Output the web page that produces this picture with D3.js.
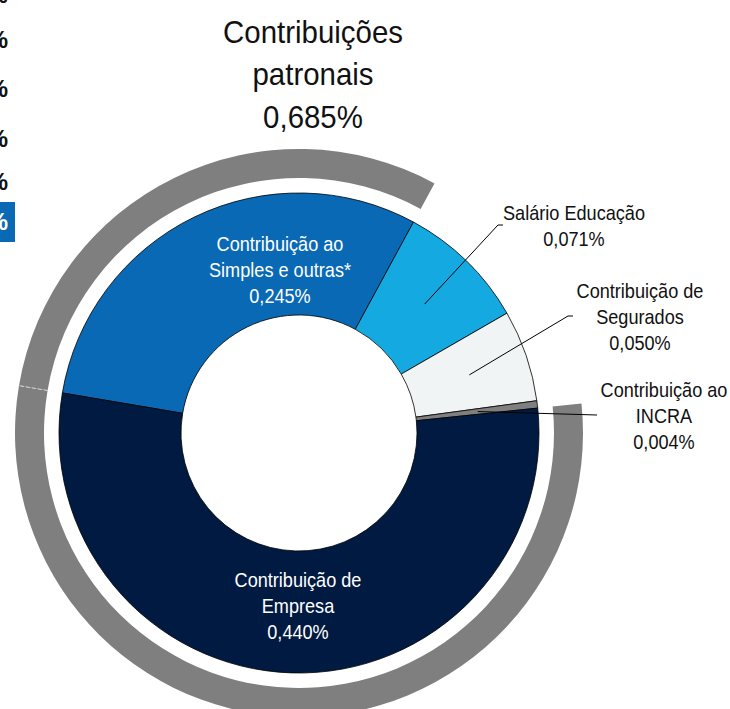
<!DOCTYPE html>
<html>
<head>
<meta charset="utf-8">
<script src="https://cdn.jsdelivr.net/npm/d3@7"></script>
<style>
  html, body { margin: 0; padding: 0; background: #fff; }
  svg { display: block; }
  text { font-family: "Liberation Sans", Arial, sans-serif; }
</style>
</head>
<body>
<svg id="chart" width="730" height="709"></svg>
<script>
// Contribution slices, clockwise from the left edge of the donut
const categories = [
  "Contribuição ao Simples e outras*",
  "Salário Educação",
  "Contribuição de Segurados",
  "Contribuição ao INCRA",
  "Contribuição de Empresa"
];
const values = [0.245, 0.071, 0.050, 0.004, 0.440];
const labelLines = [
  ["Contribuição ao", "Simples e outras*"],
  ["Salário Educação"],
  ["Contribuição de", "Segurados"],
  ["Contribuição ao", "INCRA"],
  ["Contribuição de", "Empresa"]
];
const colors = ["#0a69b4", "#15a9e1", "#f1f4f5", "#7f7f7f", "#011a41"];
// Employer contributions are grouped under the outer band
const employerGroup = ["Contribuição ao Simples e outras*", "Contribuição de Empresa"];
const titleLines = ["Contribuições", "patronais"];

const fmt = v => d3.format(".3f")(v).replace(".", ",") + "%";

const svg = d3.select("#chart");
const cx = 299, cy = 433;
const rInner = 118, rOuter = 240, bandInner = 255, bandOuter = 284;
const deg = Math.PI / 180;
const start = -80.4 * deg;

const pie = d3.pie().sort(null).value(d => d.value)
  .startAngle(start).endAngle(start + 2 * Math.PI);
const data = categories.map((c, i) => ({ name: c, value: values[i], lines: labelLines[i], color: colors[i] }));
const arcs = pie(data);

const g = svg.append("g").attr("transform", `translate(${cx},${cy})`);

// Clipped neighbouring panel at the left edge
const edge = svg.append("g");
edge.append("rect").attr("x", -20).attr("y", 202).attr("width", 35).attr("height", 40).attr("fill", "#0a69b4");
[3, 48, 97, 147, 190].forEach(y => {
  edge.append("text").attr("x", 8).attr("y", y).attr("text-anchor", "end")
    .attr("font-size", 24).attr("font-weight", "bold").attr("fill", "#111").text("%");
});
edge.append("text").attr("x", 8).attr("y", 230).attr("text-anchor", "end")
  .attr("font-size", 24).attr("font-weight", "bold").attr("fill", "#fff").text("%");

// Outer band for employer contributions
const band = d3.arc().innerRadius(bandInner).outerRadius(bandOuter);
arcs.filter(a => employerGroup.includes(a.data.name)).forEach(a => {
  g.append("path").attr("d", band({ startAngle: a.startAngle, endAngle: a.endAngle })).attr("fill", "#7f7f7f");
});
// faint seam between the two employer segments
const seam = arcs[0].startAngle;
g.append("line")
  .attr("x1", bandInner * Math.sin(seam)).attr("y1", -bandInner * Math.cos(seam))
  .attr("x2", bandOuter * Math.sin(seam)).attr("y2", -bandOuter * Math.cos(seam))
  .attr("stroke", "#d8d8d8").attr("stroke-width", 1).attr("stroke-dasharray", "4,2");

// Donut slices
const arc = d3.arc().innerRadius(rInner).outerRadius(rOuter);
g.selectAll("path.slice").data(arcs).join("path")
  .attr("class", "slice")
  .attr("d", arc)
  .attr("fill", d => d.data.color)
  .attr("stroke", "#000").attr("stroke-width", 0.8);

const polar = (r, a) => [r * Math.sin(a), -r * Math.cos(a)];

// Multi-line label helper (slightly condensed sans)
function label(x, y, lines, size, lh, fill, sx) {
  const t = svg.append("g").attr("transform", `translate(${x},${y}) scale(${sx},1)`);
  lines.forEach((s, i) => {
    t.append("text").attr("x", 0).attr("y", i * lh).attr("text-anchor", "middle")
      .attr("font-size", size).attr("fill", fill).text(s);
  });
}

// Inside labels
const inside = { 0: [280, 251], 4: [298, 587] };
Object.entries(inside).forEach(([i, p]) => {
  const d = arcs[+i].data;
  label(p[0], p[1], d.lines.concat(fmt(d.value)), 19.5, 26, "#fff", 0.93);
});

// Outside labels with leader lines
const outside = {
  1: { text: [574, 220], end: [[498, 225], [503, 225]] },
  2: { text: [640, 298], end: [[568, 316], [573, 316]] },
  3: { text: [664, 397], end: [[597, 415]] }
};
Object.entries(outside).forEach(([i, o]) => {
  const a = arcs[+i];
  const mid = (a.startAngle + a.endAngle) / 2;
  const p0 = polar(180, mid);
  const pts = [[cx + p0[0], cy + p0[1]]].concat(o.end);
  svg.append("path").attr("d", d3.line()(pts)).attr("fill", "none")
    .attr("stroke", "#000").attr("stroke-width", 1);
  label(o.text[0], o.text[1], a.data.lines.concat(fmt(a.data.value)), 19.5, 26, "#111", 0.93);
});

// Title with the employer total
const employerTotal = d3.sum(arcs.filter(a => employerGroup.includes(a.data.name)), a => a.data.value);
label(313, 43, titleLines.concat(fmt(employerTotal)), 31, 42.5, "#111", 0.95);
</script>
</body>
</html>
